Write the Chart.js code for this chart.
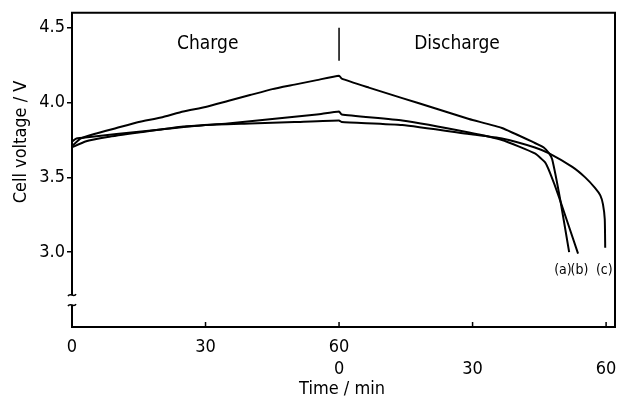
<!DOCTYPE html>
<html>
<head>
<meta charset="utf-8">
<script src="https://cdn.jsdelivr.net/npm/chart.js@4"></script>
<style>
    html, body { margin: 0; padding: 0; background: #fff; }
    #wrap { width: 620px; height: 398px; }
</style>
</head>
<body>
<div id="wrap"><canvas id="chart"></canvas></div>
<script>

// curve (a)
let aTime = [ 0, 2, 5, 10, 15, 20, 25, 30, 35, 40, 45, 50, 55, 60, 60.6, 66.7, 74.2, 81.7, 89.2, 96.6, 104, 106, 107.2, 107.9, 109.7, 111.7 ],
    aVolt = [ 3.71, 3.76, 3.79, 3.83, 3.87, 3.90, 3.94, 3.97, 4.01, 4.05, 4.09, 4.12, 4.15, 4.18, 4.16, 4.10, 4.03, 3.96, 3.89, 3.83, 3.73, 3.70, 3.66, 3.62, 3.35, 3.00 ];

// curve (b)
let bTime = [ 0, 3, 8, 15, 25, 35, 45, 55, 60, 60.6, 74.2, 89.2, 96.6, 104, 106.3, 107.4, 109.4, 113.7 ],
    bVolt = [ 3.70, 3.74, 3.77, 3.80, 3.84, 3.86, 3.89, 3.92, 3.94, 3.92, 3.88, 3.80, 3.75, 3.66, 3.60, 3.53, 3.37, 2.99 ];

// curve (c)
let cTime = [ 0, 1, 4, 10, 20, 30, 40, 50, 60, 60.6, 74.2, 89.2, 96.6, 104, 107.2, 112.4, 115.3, 117.5, 118.7, 119.3, 119.7, 119.8 ],
    cVolt = [ 3.74, 3.76, 3.77, 3.79, 3.82, 3.85, 3.86, 3.87, 3.88, 3.87, 3.85, 3.79, 3.76, 3.70, 3.66, 3.57, 3.50, 3.43, 3.38, 3.32, 3.22, 3.03 ];

let curveNames = [ '(a)', '(b)', '(c)' ];

// axis ticks
let xTicks = [ 0, 30, 60, 90, 120 ],
    xTickLabels = [ [ '0', '' ], [ '30', '' ], [ '60', '0' ], [ '', '30' ], [ '', '60' ] ],
    yTicks = [ 3.0, 3.5, 4.0, 4.5 ];

let font = '"DejaVu Sans Condensed", "DejaVu Sans", sans-serif';

/**
 * pair time and voltage arrays
 * @param {Array} t times
 * @param {Array} v voltages
 * @returns points
 */
function pts( t, v ) {

    return t.map( ( x, i ) => ( { x: x, y: v[ i ] } ) );

};

/**
 * frame, inward x ticks, axis break, titles, phase labels
 */
let decor = {
    id: 'decor',
    afterDraw( chart ) {

        let ctx = chart.ctx,
            a = chart.chartArea,
            xs = chart.scales.x,
            ys = chart.scales.y,
            brk = ys.getPixelForValue( 2.68 );

        ctx.save();
        ctx.strokeStyle = '#000';
        ctx.lineWidth = 2;

        // frame with gap for break
        ctx.beginPath();
        ctx.moveTo( a.left, brk - 5 );
        ctx.lineTo( a.left, a.top );
        ctx.lineTo( a.right, a.top );
        ctx.lineTo( a.right, a.bottom );
        ctx.lineTo( a.left, a.bottom );
        ctx.lineTo( a.left, brk + 5 );
        ctx.stroke();

        // break squiggles
        ctx.lineWidth = 1.5;
        [ brk - 5, brk + 5 ].forEach( ( y ) => {
            ctx.beginPath();
            ctx.moveTo( a.left - 4, y + 1 );
            ctx.bezierCurveTo( a.left - 2, y - 3, a.left + 2, y + 3, a.left + 4, y - 1 );
            ctx.stroke();
        } );

        // inward x ticks
        xTicks.forEach( ( v ) => {
            let px = xs.getPixelForValue( v );
            ctx.beginPath();
            ctx.moveTo( px, a.bottom );
            ctx.lineTo( px, a.bottom - 5 );
            ctx.stroke();
        } );

        // charge / discharge divider
        let mid = xs.getPixelForValue( 60 );
        ctx.beginPath();
        ctx.moveTo( mid, ys.getPixelForValue( 4.5 ) );
        ctx.lineTo( mid, ys.getPixelForValue( 4.28 ) );
        ctx.stroke();

        ctx.fillStyle = '#000';
        ctx.textAlign = 'center';
        ctx.textBaseline = 'middle';

        ctx.font = '19px ' + font;
        ctx.fillText( 'Charge', xs.getPixelForValue( 30.5 ), ys.getPixelForValue( 4.39 ) );
        ctx.fillText( 'Discharge', xs.getPixelForValue( 86.5 ), ys.getPixelForValue( 4.39 ) );

        // axis titles
        ctx.font = '18px ' + font;
        ctx.fillText( 'Time / min', 342, 389 );
        ctx.save();
        ctx.translate( 21, 142 );
        ctx.rotate( -Math.PI / 2 );
        ctx.fillText( 'Cell voltage / V', 0, 0 );
        ctx.restore();

        // curve end labels
        ctx.font = '14px ' + font;
        ctx.fillText( curveNames[0], xs.getPixelForValue( 110.3 ), ys.getPixelForValue( 2.88 ) );
        ctx.fillText( curveNames[1], xs.getPixelForValue( 114.0 ), ys.getPixelForValue( 2.88 ) );
        ctx.fillText( curveNames[2], xs.getPixelForValue( 119.6 ), ys.getPixelForValue( 2.88 ) );

        ctx.restore();

    }
};

let line = {
    borderColor: '#000',
    borderWidth: 2,
    pointRadius: 0,
    tension: 0.15,
    fill: false
};

new Chart( document.getElementById( 'chart' ).getContext( '2d' ), {
    type: 'line',
    data: {
        datasets: [
            Object.assign( { label: curveNames[0], data: pts( aTime, aVolt ) }, line ),
            Object.assign( { label: curveNames[1], data: pts( bTime, bVolt ) }, line ),
            Object.assign( { label: curveNames[2], data: pts( cTime, cVolt ) }, line )
        ]
    },
    plugins: [ decor ],
    options: {
        responsive: true,
        maintainAspectRatio: false,
        animation: false,
        layout: {
            padding: { top: 12, right: 5, left: 0, bottom: 0 }
        },
        plugins: {
            legend: { display: false },
            tooltip: { enabled: false }
        },
        scales: {
            x: {
                type: 'linear',
                min: 0,
                max: 122,
                afterBuildTicks: ( s ) => { s.ticks = xTicks.map( v => ( { value: v } ) ); },
                afterFit: ( s ) => { s.height = 71; s.paddingLeft = 0; s.paddingRight = 0; },
                border: { display: false },
                grid: { display: false },
                ticks: {
                    autoSkip: false,
                    maxRotation: 0,
                    padding: 1,
                    color: '#000',
                    font: { family: font, size: 18, lineHeight: 1.22 },
                    callback: ( v ) => {
                        let i = xTicks.indexOf( v );
                        return i < 0 ? '' : xTickLabels[ i ];
                    }
                }
            },
            y: {
                min: 2.5,
                max: 4.6,
                afterBuildTicks: ( s ) => { s.ticks = yTicks.map( v => ( { value: v } ) ); },
                afterFit: ( s ) => { s.width = 72; },
                border: { display: false },
                grid: {
                    drawOnChartArea: false,
                    tickLength: 5,
                    lineWidth: 1.5,
                    color: '#000'
                },
                ticks: {
                    padding: 2,
                    color: '#000',
                    font: { family: font, size: 18 },
                    callback: ( v ) => v.toFixed( 1 )
                }
            }
        }
    }
} );

</script>
</body>
</html>
